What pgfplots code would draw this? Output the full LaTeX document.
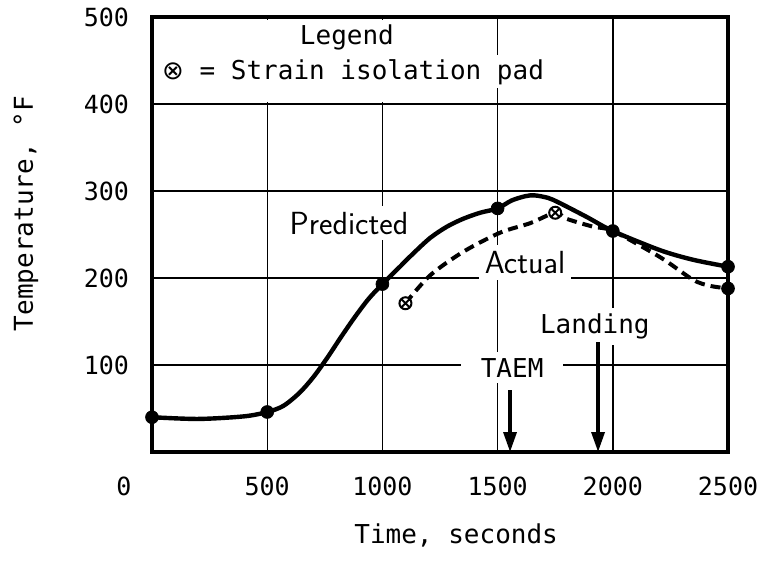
\documentclass[border=0pt]{standalone}
\usepackage{fontspec}
\setmainfont{DejaVu Sans Mono}
\newfontfamily\symfont{DejaVu Sans}
\usepackage{pgfplots}
\pgfplotsset{compat=1.18}
\usetikzlibrary{calc,arrows.meta}

\begin{document}
\begin{tikzpicture}[font=\fontsize{13}{15}\selectfont]
\begin{axis}[
  scale only axis, width=288pt, height=217.5pt,
  xmin=0, xmax=2500, ymin=0, ymax=500,
  xtick={0,500,1000,1500,2000,2500},
  xticklabels={\makebox[0pt]{0\hspace{28pt}},500,1000,1500,2000,2500},
  ytick={100,200,300,400,500},
  major tick length=0pt,
  grid=major,
  major grid style={black, line width=0.7pt},
  axis line style={line width=1.8pt},
  /pgf/number format/assume math mode=true,
  tick label style={font=\fontsize{12.5}{14}\selectfont},
  xticklabel style={yshift=-9pt},
  yticklabel style={xshift=-8pt},
  clip=false,
]
% legend area (white) and texts
\fill[white] (axis cs:8,402) rectangle (axis cs:1180,497);
\node[fill=white, inner sep=2pt] at (axis cs:846,476) {Legend};
\node[fill=white, anchor=west, inner sep=2pt] at (axis cs:25,437) {{\symfont ⊗} = Strain isolation pad};
\node[fill=white, inner sep=3pt, font=\fontsize{16}{18}\selectfont\sffamily] at (axis cs:855,263) {Predicted};
\node[fill=white, inner sep=3pt, font=\fontsize{16}{18}\selectfont\sffamily] at (axis cs:1619,218) {Actual};
\node[fill=white, inner xsep=10pt, inner ysep=3pt] at (axis cs:1563,97) {TAEM};
\node[fill=white, inner sep=3pt] at (axis cs:1922,144) {Landing};
\draw[line width=1.7pt, -{Triangle[length=10pt,width=6.5pt]}] (axis cs:1554,71) -- (axis cs:1554,0);
\draw[line width=1.7pt, -{Triangle[length=10pt,width=6.5pt]}] (axis cs:1936,126) -- (axis cs:1936,0);

% Predicted
\addplot[line width=2.2pt, smooth, tension=0.5] coordinates {
(0,40) (200,38) (400,41) (500,46) (570,53) (640,68) (700,86) (760,108) (820,132)
(880,155) (940,176) (1000,193)
(1076,213) (1133,228) (1207,246) (1280,259) (1350,268) (1424,275) (1500,280)
(1560,289) (1620,294) (1660,295) (1720,292) (1771,286) (1888,270) (2000,254)
(2205,232) (2348,221) (2500,213)};
\addplot[only marks, mark=*, mark size=3.2pt] coordinates {
(0,40) (500,46) (1000,193) (1500,280) (2000,254) (2500,213)};
% Actual
\addplot[line width=2pt, dash pattern=on 5pt off 3pt, smooth, tension=0.5] coordinates {
(1100,171) (1207,203) (1350,230) (1510,252) (1641,263) (1750,275) (1800,268)
(1914,259) (2000,254) (2205,224) (2348,198) (2422,191) (2500,188)};
\addplot[only marks, mark=otimes*, mark size=3pt, mark options={fill=white, line width=1pt}] coordinates {
(1100,171) (1750,275)};
\addplot[only marks, mark=*, mark size=3.2pt] coordinates {(2500,188)};

\draw[line width=1.8pt] (rel axis cs:0,0) rectangle (rel axis cs:1,1);
\node[rotate=90] at ($(rel axis cs:0,0.548)+(-63pt,0)$) {Temperature, °F};
\node at ($(rel axis cs:0.528,0)+(0,-41.5pt)$) {Time, seconds};
\end{axis}
\pgfresetboundingbox
\path[use as bounding box] ($(current axis.south west)+(-76pt,-61pt)$) rectangle ($(current axis.north east)+(14.5pt,8.5pt)$);
\end{tikzpicture}
\end{document}
